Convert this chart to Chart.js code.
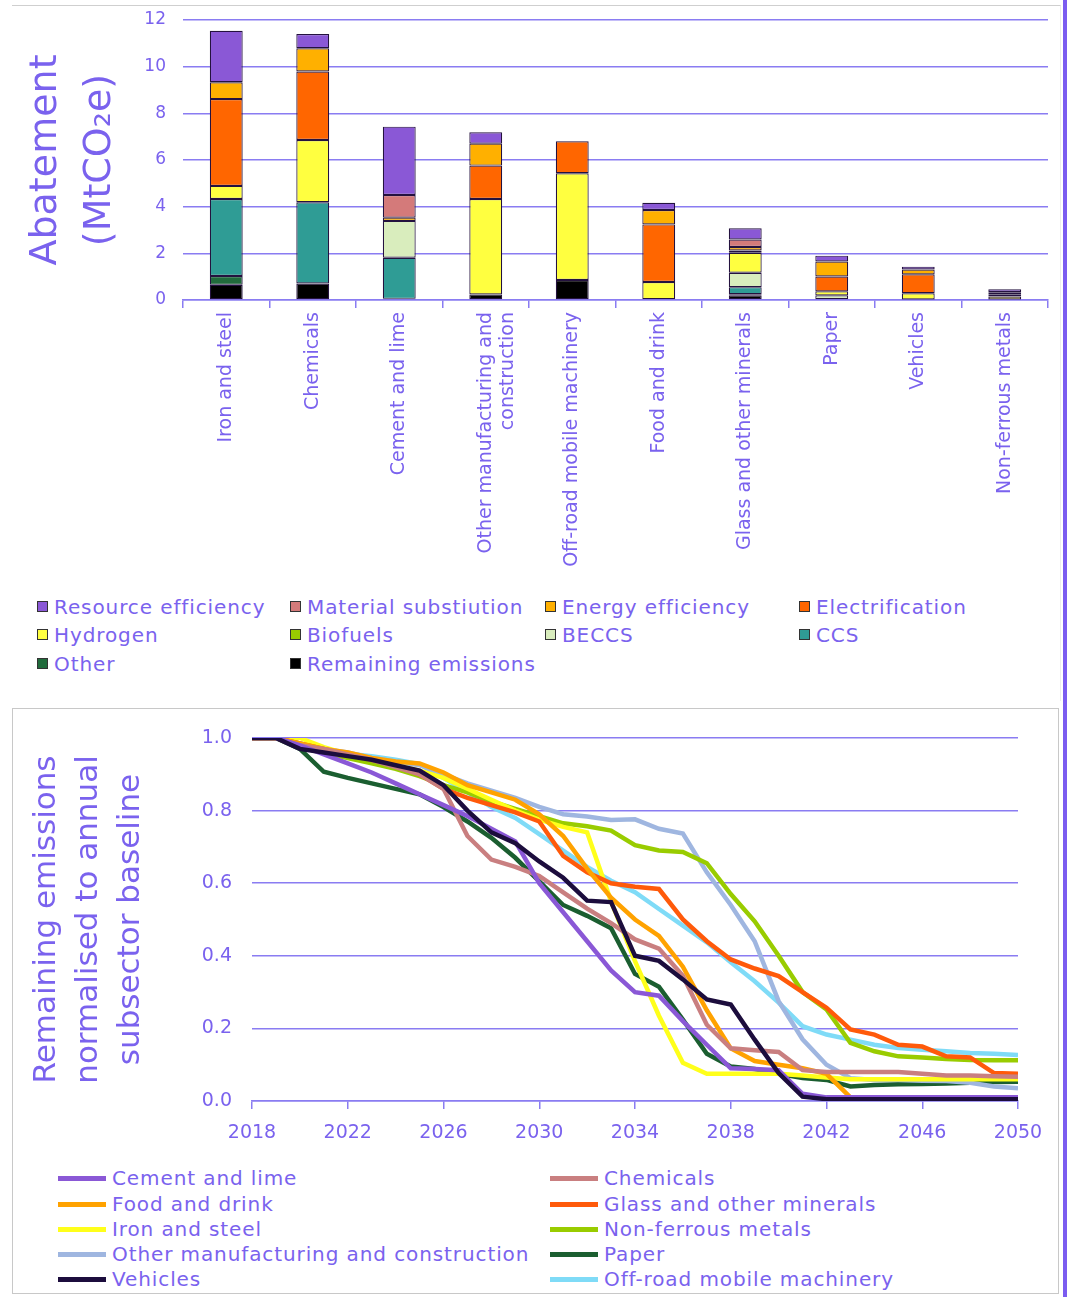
<!DOCTYPE html>
<html><head><meta charset="utf-8">
<script src="https://cdn.jsdelivr.net/npm/chart.js@4/dist/chart.umd.min.js"></script>
<style>
html,body{margin:0;padding:0;background:#fff;}
body{width:1071px;height:1297px;position:relative;overflow:hidden;font-family:'DejaVu Sans',sans-serif;}
#topPanel{position:absolute;left:12px;top:5px;width:1048px;height:695px;border-top:1px solid #cfcfcf;border-right:1px solid #eeeeee;}
#botPanel{position:absolute;left:12px;top:708px;width:1045px;height:584px;border:1px solid #c8c8c8;}
#rightBar{position:absolute;left:1063px;top:0;width:4px;height:1297px;background:#7b5cf0;}
.cw{position:absolute;}
.lg{position:absolute;font-size:20px;color:#7a62ee;white-space:nowrap;line-height:24px;letter-spacing:0.9px;}
.sq{position:absolute;width:9px;height:9px;border:1px solid #333;}
.ln{position:absolute;height:5px;}
</style></head>
<body>
<div id="topPanel"></div>
<div id="botPanel"></div>
<div id="rightBar"></div>
<div class="cw" style="left:0;top:0;width:1060px;height:580px;"><canvas id="barChart" width="1060" height="580"></canvas></div>
<div class="cw" style="left:0;top:700px;width:1060px;height:460px;"><canvas id="lineChart" width="1060" height="460"></canvas></div>
<div id="legends"></div>
<script>
// ---------- Top chart data ----------
const barCategories = ['Iron and steel','Chemicals','Cement and lime',['Other manufacturing and','construction'],'Off-road mobile machinery','Food and drink','Glass and other minerals','Paper','Vehicles','Non-ferrous metals'];
const yTicksTop = [0,2,4,6,8,10,12];
const remainingEmissions   = [0.65,0.71,0.05,0.24,0.86,0.03,0.20,0.03,0.02,0.02];
const otherMeasures        = [0.38,null,null,null,null,null,0.05,null,null,null];
const ccs                  = [3.30,3.48,1.76,null,null,null,0.30,null,null,null];
const beccs                = [null,null,1.58,null,null,null,0.62,0.17,null,null];
const biofuels             = [null,null,null,null,null,null,null,null,null,null];
const hydrogen             = [0.56,2.67,null,4.09,4.57,0.74,0.85,0.17,0.27,0.13];
const electrification      = [3.72,2.93,null,1.43,1.37,2.47,0.10,0.64,0.81,0.10];
const energyEfficiency     = [0.72,1.00,0.14,0.94,null,0.62,0.15,0.64,0.21,0.08];
const materialSubstitution = [null,null,0.97,null,null,null,0.32,null,null,null];
const resourceEfficiency   = [2.21,0.61,2.93,0.49,null,0.31,0.48,0.25,0.12,0.13];

// stack order bottom -> top
const barSeries = [
  {label:'Remaining emissions', data:remainingEmissions, color:'#000000'},
  {label:'Other', data:otherMeasures, color:'#216b3c'},
  {label:'CCS', data:ccs, color:'#2f9c95'},
  {label:'BECCS', data:beccs, color:'#d9edbd'},
  {label:'Biofuels', data:biofuels, color:'#99cc00'},
  {label:'Hydrogen', data:hydrogen, color:'#ffff40'},
  {label:'Electrification', data:electrification, color:'#ff6600'},
  {label:'Energy efficiency', data:energyEfficiency, color:'#ffb000'},
  {label:'Material substiution', data:materialSubstitution, color:'#d47a7a'},
  {label:'Resource efficiency', data:resourceEfficiency, color:'#8a58d6'}
];
const barLegendOrder = ['Resource efficiency','Material substiution','Energy efficiency','Electrification','Hydrogen','Biofuels','BECCS','CCS','Other','Remaining emissions'];

// ---------- Bottom chart data ----------
const years = [2018,2019,2020,2021,2022,2023,2024,2025,2026,2027,2028,2029,2030,2031,2032,2033,2034,2035,2036,2037,2038,2039,2040,2041,2042,2043,2044,2045,2046,2047,2048,2049,2050];
const xTicksBottom = [2018,2022,2026,2030,2034,2038,2042,2046,2050];
const yTicksBottom = [0,0.2,0.4,0.6,0.8,1.0];
const cementLime = [1.0,1.0,0.98,0.955,0.93,0.905,0.875,0.845,0.815,0.785, 0.75,0.715,0.60,0.52,0.44,0.36,0.30,0.29,0.22,0.155, 0.09,0.088,0.085,0.02,0.01,0.01,0.01,0.01,0.01,0.01, 0.01,0.01,0.01];
const chemicals = [1.0,1.0,0.98,0.97,0.955,0.94,0.92,0.90,0.86,0.73, 0.665,0.645,0.62,0.575,0.53,0.49,0.445,0.42,0.345,0.21, 0.145,0.14,0.135,0.085,0.08,0.08,0.08,0.08,0.075,0.07, 0.07,0.068,0.067];
const foodDrink = [1.0,1.0,0.985,0.97,0.96,0.945,0.935,0.93,0.905,0.87, 0.85,0.83,0.79,0.73,0.64,0.56,0.50,0.455,0.37,0.25, 0.145,0.11,0.10,0.09,0.075,0.01,0.0,0.0,0.0,0.0, 0.0,0.0,0.0];
const glassMinerals = [1.0,1.0,0.985,0.97,0.955,0.94,0.925,0.90,0.86,0.835, 0.815,0.795,0.77,0.675,0.63,0.60,0.59,0.584,0.50,0.44, 0.39,0.365,0.344,0.30,0.257,0.197,0.183,0.155,0.15,0.123, 0.12,0.077,0.075];
const ironSteel = [1.0,1.0,1.0,0.975,0.955,0.94,0.925,0.91,0.89,0.86, 0.83,0.80,0.775,0.755,0.74,0.55,0.385,0.235,0.105,0.075, 0.075,0.075,0.075,0.07,0.065,0.06,0.06,0.06,0.06,0.06, 0.06,0.06,0.06];
const nonFerrous = [1.0,1.0,0.975,0.96,0.945,0.93,0.915,0.895,0.87,0.85, 0.825,0.805,0.785,0.765,0.757,0.745,0.705,0.69,0.686,0.655, 0.57,0.495,0.40,0.30,0.252,0.16,0.137,0.123,0.12,0.116, 0.113,0.112,0.112];
const otherManufacturing = [1.0,1.0,0.985,0.97,0.96,0.945,0.935,0.925,0.90,0.875, 0.855,0.835,0.81,0.79,0.784,0.774,0.776,0.75,0.737,0.63, 0.54,0.44,0.275,0.17,0.10,0.063,0.058,0.058,0.056,0.055, 0.05,0.04,0.035];
const paper = [1.0,1.0,0.97,0.907,0.89,0.875,0.86,0.845,0.81,0.77, 0.725,0.67,0.605,0.54,0.51,0.476,0.35,0.315,0.224,0.13, 0.095,0.088,0.075,0.063,0.058,0.04,0.044,0.046,0.047,0.048, 0.05,0.052,0.053];
const vehicles = [1.0,1.0,0.97,0.96,0.95,0.94,0.925,0.91,0.87,0.80, 0.74,0.71,0.66,0.615,0.552,0.548,0.40,0.386,0.335,0.28, 0.266,0.169,0.077,0.012,0.005,0.005,0.005,0.005,0.005,0.005, 0.005,0.005,0.005];
const offRoad = [1.0,1.0,0.985,0.965,0.957,0.95,0.94,0.928,0.89,0.85, 0.81,0.78,0.735,0.69,0.645,0.607,0.575,0.529,0.483,0.437, 0.382,0.33,0.271,0.206,0.183,0.169,0.155,0.146,0.141,0.137, 0.132,0.13,0.127];

const lineSeries = [
  {label:'Cement and lime', data:cementLime, color:'#8a58d6'},
  {label:'Chemicals', data:chemicals, color:'#c97f80'},
  {label:'Food and drink', data:foodDrink, color:'#ffa200'},
  {label:'Glass and other minerals', data:glassMinerals, color:'#ff5a0a'},
  {label:'Iron and steel', data:ironSteel, color:'#ffff1a'},
  {label:'Non-ferrous metals', data:nonFerrous, color:'#99cc00'},
  {label:'Other manufacturing and construction', data:otherManufacturing, color:'#9fb6e0'},
  {label:'Paper', data:paper, color:'#1b5e30'},
  {label:'Vehicles', data:vehicles, color:'#1c0d3d'},
  {label:'Off-road mobile machinery', data:offRoad, color:'#7fdbf7'}
];

// ---------- styling ----------
const TXT = '#7a62ee';
const GRID = '#8a7cf2';
Chart.defaults.font.family = "'DejaVu Sans', sans-serif";
Chart.defaults.color = TXT;
Chart.defaults.animation = false;

new Chart(document.getElementById('barChart'), {
  type:'bar',
  data:{
    labels: barCategories,
    datasets: barSeries.map(s=>({label:s.label, data:s.data, backgroundColor:s.color, borderColor:'#24123f', borderWidth:1.2, borderSkipped:false, barPercentage:0.38, categoryPercentage:1}))
  },
  options:{
    responsive:false,
    layout:{padding:{left:0,right:12,top:20,bottom:0}},
    plugins:{legend:{display:false}, tooltip:{enabled:false}},
    scales:{
      x:{stacked:true,
        grid:{drawOnChartArea:false, drawTicks:true, tickLength:8, color:GRID, lineWidth:1.5},
        border:{display:true, color:GRID, width:1.5},
        ticks:{autoSkip:false, minRotation:90, maxRotation:90, padding:4, font:{size:19}, color:TXT},
        afterFit(s){ s.height = 280; }
      },
      y:{stacked:true, min:0, max:12,
        afterBuildTicks(s){ s.ticks = yTicksTop.map(v=>({value:v})); },
        grid:{color:GRID, lineWidth:1.5, drawTicks:false},
        border:{display:false},
        ticks:{padding:17, font:{size:17}, color:TXT, callback:v=>String(v)},
        title:{display:true, text:['Abatement','(MtCO\u2082e)'], font:{size:38, lineHeight:1.4}, color:TXT, padding:{top:20,bottom:0}},
        afterFit(s){ s.width = 183; s.paddingTop = 0; s.paddingBottom = 0; }
      }
    }
  }
});

new Chart(document.getElementById('lineChart'), {
  type:'line',
  data:{
    datasets: lineSeries.map(s=>({label:s.label, data:years.map((y,i)=>({x:y,y:s.data[i]})), borderColor:s.color, backgroundColor:s.color, borderWidth:4.5, pointRadius:0, tension:0, fill:false, order:(s.label==='Vehicles'?-1:0)}))
  },
  options:{
    responsive:false,
    layout:{padding:{left:0,right:42,top:38,bottom:0}},
    plugins:{legend:{display:false}, tooltip:{enabled:false}},
    scales:{
      x:{type:'linear', min:2018, max:2050,
        afterBuildTicks(s){ s.ticks = xTicksBottom.map(v=>({value:v})); },
        grid:{drawOnChartArea:false, drawTicks:true, tickLength:8, color:GRID, lineWidth:1.5},
        border:{display:true, color:GRID, width:1.5},
        ticks:{padding:13, font:{size:19}, color:TXT, callback:v=>String(v)},
        afterFit(s){ s.height = 59; }
      },
      y:{min:0, max:1,
        afterBuildTicks(s){ s.ticks = yTicksBottom.map(v=>({value:v})); },
        grid:{color:GRID, lineWidth:1.5, drawTicks:false},
        border:{display:false},
        ticks:{padding:20, font:{size:19}, color:TXT, callback:v=>Number(v).toFixed(1)},
        title:{display:true, text:['Remaining emissions','normalised to annual','subsector baseline'], font:{size:31, lineHeight:1.36}, color:TXT, padding:{top:26,bottom:0}},
        afterFit(s){ s.width = 252; s.paddingTop = 0; s.paddingBottom = 0; }
      }
    }
  }
});

// ---------- HTML legends ----------
const lg = document.getElementById('legends');
const topCols = [37,290,545,799], topRows = [607,635,664];
barLegendOrder.forEach((name,i)=>{
  const s = barSeries.find(b=>b.label===name);
  const x = topCols[i%4], y = topRows[Math.floor(i/4)];
  const sq = document.createElement('div'); sq.className='sq';
  sq.style.left = x+'px'; sq.style.top = (y-6)+'px'; sq.style.background = s.color;
  lg.appendChild(sq);
  const t = document.createElement('div'); t.className='lg';
  t.style.left = (x+17)+'px'; t.style.top = (y-12)+'px'; t.textContent = name;
  lg.appendChild(t);
});
const botCols = [58,550], botRows = [1178,1204,1229,1254,1279];
lineSeries.forEach((s,i)=>{
  const x = botCols[i%2], y = botRows[Math.floor(i/2)];
  const ln = document.createElement('div'); ln.className='ln';
  ln.style.left = x+'px'; ln.style.top = (y-2)+'px'; ln.style.width = '48px'; ln.style.background = s.color;
  lg.appendChild(ln);
  const t = document.createElement('div'); t.className='lg';
  t.style.left = (x+54)+'px'; t.style.top = (y-12)+'px'; t.textContent = s.label;
  lg.appendChild(t);
});
</script>
</body></html>
